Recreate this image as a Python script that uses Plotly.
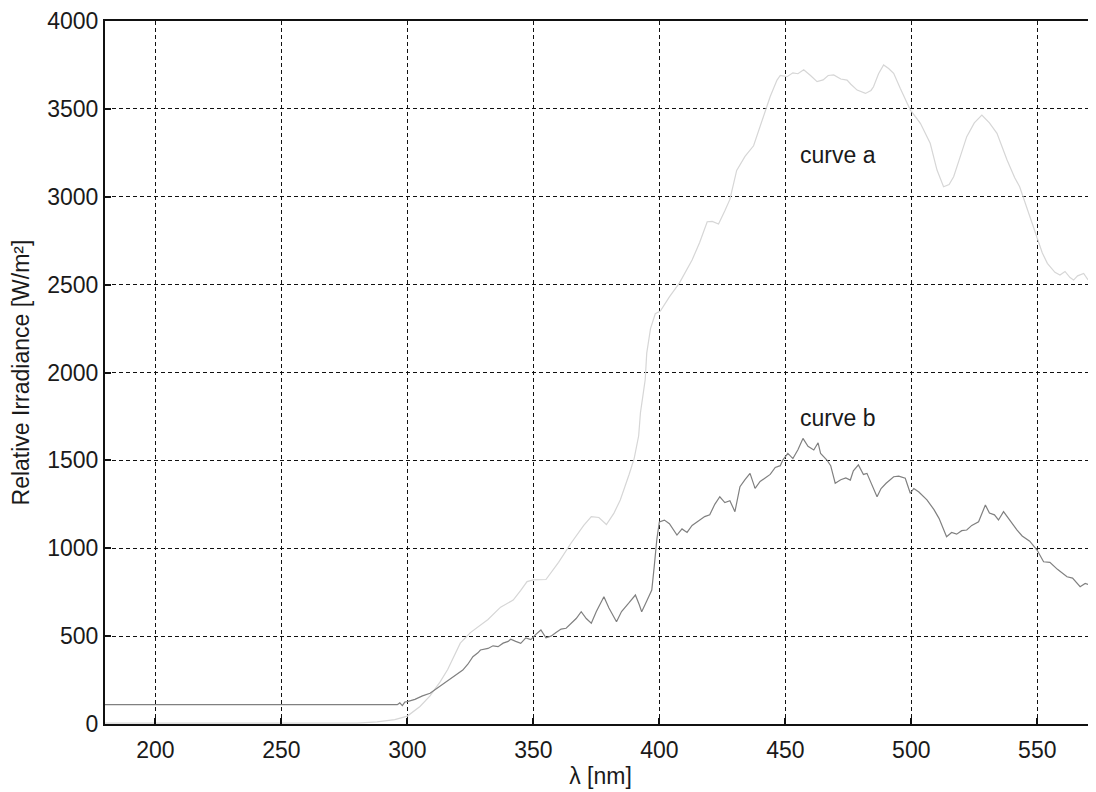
import plotly.graph_objects as go

# curve a (light gray)
wl_a = [180, 280, 288, 295, 300, 305, 309, 313, 316, 321, 325, 329, 332, 337, 342, 345, 347.5, 350, 355,
        360, 365, 370, 373, 376, 379, 382, 384.5, 388, 390, 391.8, 392.5, 394.4, 395, 396.5, 398.4, 400.4,
        404, 408, 413, 416, 419, 421, 423.5, 426, 428, 430.7, 434, 437.4, 441.4, 444, 446.7, 448, 450.7,
        453, 455, 457.3, 460, 462.6, 465, 467, 469.2, 472, 474.5, 476, 478.5, 481.8, 484, 485, 487, 489,
        491, 493, 495.6, 499.6, 503.6, 507.5, 510.2, 512.8, 515, 516.8, 519, 522, 525, 528, 531, 534, 538,
        541, 543, 546, 550, 552, 554, 557, 559, 561, 563, 564.4, 566, 568.4, 570, 572, 573.4]
irr_a = [5, 5, 12, 25, 45, 100, 160, 240, 310, 460, 520, 560, 595, 665, 705, 760, 810, 820, 822,
         920, 1030, 1130, 1180, 1175, 1135, 1200, 1275, 1420, 1510, 1640, 1770, 1960, 2110, 2250, 2335, 2350,
         2430, 2510, 2640, 2740, 2858, 2860, 2845, 2920, 2985, 3150, 3230, 3290, 3455, 3570, 3664, 3690, 3683,
         3705, 3700, 3722, 3690, 3655, 3665, 3690, 3693, 3670, 3664, 3640, 3607, 3588, 3605, 3626, 3700, 3750,
         3730, 3702, 3617, 3494, 3418, 3304, 3152, 3057, 3070, 3114, 3210, 3342, 3420, 3465, 3420, 3361, 3209,
         3110, 3057, 2930, 2773, 2680, 2621, 2570, 2555, 2575, 2540, 2526, 2550, 2564, 2530, 2560, 2545]

# curve b (darker gray)
wl_b = [180, 296, 297, 298, 299, 300, 303, 306, 309, 312, 314, 316, 319, 322, 324, 326, 328, 329, 332, 334,
        336, 338, 340, 341, 343, 345, 347, 349, 351, 353, 355, 357, 359, 361, 363, 365, 367, 369, 371, 373,
        375, 378, 380, 383, 385, 388, 390.5, 392, 393, 395, 397, 398, 399, 400, 402, 404, 406, 407, 409, 411,
        413, 416, 418, 420, 422, 424, 426, 428, 430, 431, 432, 434, 436, 438, 440, 442, 444, 446, 448, 449,
        451, 453, 455, 457, 459, 461.3, 463, 464, 466.5, 468, 469.8, 472, 474, 475.8, 477, 479, 481, 482.4,
        484, 486.4, 488, 490, 493, 495, 497.6, 499.6, 501, 503, 506.2, 509, 511, 514, 516, 518, 520, 522,
        524, 526.7, 529.4, 531, 533, 534.6, 536.6, 538, 541.9, 544, 547, 549.9, 552.5, 555, 558, 561.8, 564,
        567, 569, 571, 573.4]
irr_b = [110, 110, 120, 105, 125, 127, 140, 160, 175, 205, 225, 250, 280, 307, 340, 383, 405, 421, 430, 445,
         440, 460, 470, 482, 470, 459, 490, 480, 510, 535, 490, 500, 520, 540, 545, 570, 600, 639, 600, 574,
         640, 724, 660, 582, 640, 690, 734, 680, 639, 700, 762, 900, 1050, 1150, 1160, 1140, 1100, 1075, 1110, 1090,
         1130, 1161, 1180, 1190, 1250, 1293, 1260, 1270, 1208, 1280, 1350, 1390, 1426, 1341, 1380, 1400, 1420, 1460, 1470, 1502,
         1540, 1510, 1560, 1625, 1580, 1559, 1600, 1540, 1502, 1470, 1370, 1390, 1400, 1388, 1440, 1474, 1420, 1426,
         1370, 1293, 1340, 1370, 1407, 1410, 1398, 1313, 1340, 1320, 1275, 1220, 1170, 1066, 1090, 1080, 1100, 1104,
         1130, 1151, 1246, 1200, 1190, 1161, 1208, 1180, 1104, 1070, 1040, 990, 923, 920, 880, 838, 830,
         781, 800, 790, 800]

x_ticks = [200, 250, 300, 350, 400, 450, 500, 550]
y_ticks = [0, 500, 1000, 1500, 2000, 2500, 3000, 3500, 4000]

labels = ["curve a", "curve b"]
label_x = [455, 455]
label_y = [3237, 1741]

FONT = "Liberation Sans, Arial, sans-serif"
TXT = "#1a1a1a"

fig = go.Figure()
fig.add_trace(go.Scatter(x=wl_a, y=irr_a, mode="lines", line=dict(color="#d6d6d6", width=1.2), name="curve a"))
fig.add_trace(go.Scatter(x=wl_b, y=irr_b, mode="lines", line=dict(color="#808080", width=1.2), name="curve b"))

for t, lx, ly in zip(labels, label_x, label_y):
    fig.add_annotation(x=lx, y=ly, text=t, showarrow=False, xanchor="left", yanchor="middle",
                       font=dict(family=FONT, size=23, color=TXT))

axis_common = dict(
    showgrid=True, gridcolor="#111", gridwidth=1.4, griddash="4px,3px",
    showline=True, linecolor="#111", linewidth=2,
    ticks="inside", ticklen=6, tickcolor="#111", tickwidth=2,
    zeroline=False, automargin=False,
    tickfont=dict(family=FONT, size=23, color=TXT),
)

fig.update_xaxes(range=[180, 573.3], tickvals=x_ticks, mirror=True, ticklabelstandoff=4,
                 title=dict(text="λ [nm]", font=dict(family=FONT, size=23, color=TXT), standoff=6),
                 **axis_common)
fig.update_yaxes(range=[0, 4000], tickvals=y_ticks,
                 title=dict(text="Relative Irradiance [W/m²]", font=dict(family=FONT, size=23, color=TXT), standoff=13),
                 **axis_common)

# the page body adds an 8px offset; size the figure so it fits the window without scrollbars
fig.update_layout(
    width=1088, height=784,
    margin=dict(l=97, r=0, t=13, b=68),
    paper_bgcolor="white", plot_bgcolor="white",
    showlegend=False,
)

fig.write_html("out.html")
